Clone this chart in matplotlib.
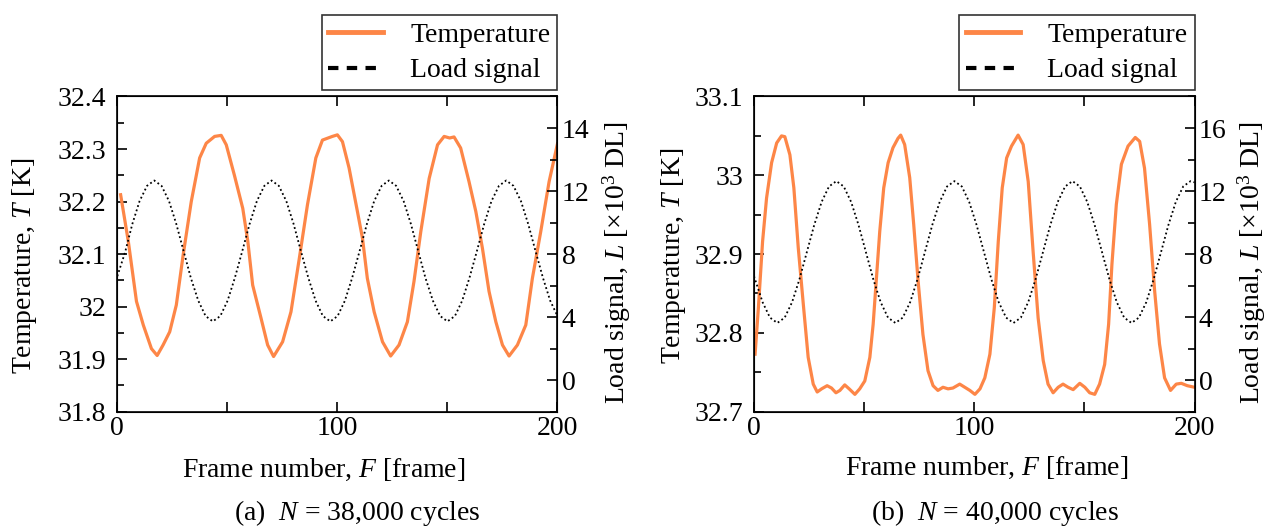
import matplotlib
matplotlib.use("Agg")
import matplotlib.pyplot as plt
from matplotlib.lines import Line2D

plt.rcParams['font.family'] = ['Liberation Serif', 'DejaVu Serif']
plt.rcParams['mathtext.fontset'] = 'custom'
plt.rcParams['mathtext.rm'] = 'Liberation Serif'
plt.rcParams['mathtext.it'] = 'Liberation Serif:italic'

ORANGE = '#fd8647'

# ---- panel (a): N = 38,000 cycles ----
a_temp_f = [1.5, 5, 8.7, 11.8, 15.5, 18.1, 20.8, 23.8, 26.8, 29.9, 33.6, 37.4, 40.4, 44.2,
            47.2, 49.5, 53.2, 57, 59.3, 61.5, 65.3, 68.3, 71, 75.1, 78.9, 82.7, 86.4, 90.2,
            93.2, 97.7, 100, 102.3, 105.3, 109.1, 111.4, 113.6, 116.7, 120.5, 124.2, 128,
            131.8, 134.8, 137.9, 141.7, 145.5, 148.5, 151, 153, 156, 159.8, 162.9, 165.9,
            168.9, 172, 175, 178, 181.8, 185.6, 188.6, 192.4, 196.2, 200]
a_temp = [32.213, 32.124, 32.01, 31.965, 31.92, 31.907, 31.927, 31.952, 32.003, 32.098,
          32.2, 32.283, 32.311, 32.324, 32.326, 32.308, 32.25, 32.187, 32.124, 32.041,
          31.978, 31.927, 31.905, 31.933, 31.99, 32.092, 32.194, 32.283, 32.317, 32.324,
          32.327, 32.314, 32.264, 32.181, 32.13, 32.054, 31.99, 31.933, 31.906, 31.927,
          31.971, 32.048, 32.143, 32.244, 32.308, 32.324, 32.321, 32.323, 32.302, 32.238,
          32.181, 32.111, 32.029, 31.971, 31.927, 31.906, 31.927, 31.965, 32.054, 32.143,
          32.238, 32.31]

a_load_f = [0, 3.5, 6.8, 10.1, 13.5, 16.8, 20.1, 23.5, 26.8, 30.1, 33.4, 36.8, 40.1, 43.4,
            46.8, 50.1, 53.4, 56.8, 60.1, 63.4, 66.8, 70.1, 73.4, 76.8, 80.1, 83.4, 86.8,
            90.1, 93.4, 96.8, 100.1, 103.4, 106.7, 110.1, 113.4, 116.7, 120.1, 123.4, 126.7,
            130.1, 133.4, 136.7, 140.0, 143.4, 146.7, 150.0, 153.4, 156.7, 160.0, 163.4,
            166.7, 170.0, 173.4, 176.7, 180.0, 183.4, 186.7, 190.0, 193.4, 196.7, 200]
a_load = [6.6, 8.1, 9.9, 11.36, 12.33, 12.67, 12.33, 11.36, 9.91, 8.2, 6.49, 5.04, 4.07,
          3.73, 4.07, 5.04, 6.49, 8.2, 9.91, 11.36, 12.33, 12.67, 12.33, 11.36, 9.91, 8.2,
          6.49, 5.04, 4.07, 3.73, 4.07, 5.04, 6.49, 8.2, 9.91, 11.36, 12.33, 12.67, 12.33,
          11.36, 9.91, 8.2, 6.49, 5.04, 4.07, 3.73, 4.07, 5.04, 6.49, 8.2, 9.91, 11.36,
          12.33, 12.67, 12.33, 11.36, 9.91, 8.2, 6.49, 5.04, 4.07]

# ---- panel (b): N = 40,000 cycles ----
b_temp_f = [0.5, 2, 3.9, 5.7, 8, 10.3, 12.5, 14, 16.3, 18.1, 20.1, 22.4, 24.6, 26.9, 28.7,
            30.7, 33.2, 35.2, 37.2, 39, 41.2, 43.2, 45.8, 48, 50.3, 52.6, 54.1, 55.6, 57.1,
            58.9, 60.9, 63.1, 65.4, 66.6, 68.4, 70.7, 72.5, 74.5, 76.7, 79, 81.3, 83.5,
            85.8, 88.1, 90.3, 93.4, 95.7, 98, 100.3, 102.6, 104.8, 107.1, 109.1, 110.9,
            112.7, 114.7, 116.9, 119.9, 122.2, 124.5, 126.7, 129, 131.3, 133.5, 135.8,
            138.1, 140.3, 142.6, 144.9, 147.9, 150.2, 152.4, 154.7, 156.9, 159.2, 161,
            162.5, 164.5, 166.8, 169.8, 173.1, 175.1, 177.3, 179.6, 181.9, 184.1, 186.4,
            189.1, 191.7, 194, 196.7, 200]
b_temp = [32.773, 32.832, 32.916, 32.971, 33.016, 33.041, 33.05, 33.049, 33.026, 32.984,
          32.908, 32.836, 32.769, 32.735, 32.725, 32.729, 32.733, 32.73, 32.724, 32.727,
          32.734, 32.729, 32.722, 32.729, 32.739, 32.769, 32.811, 32.87, 32.929, 32.984,
          33.016, 33.035, 33.047, 33.051, 33.039, 32.997, 32.938, 32.866, 32.798, 32.752,
          32.733, 32.727, 32.731, 32.729, 32.73, 32.735, 32.731, 32.727, 32.722, 32.729,
          32.743, 32.773, 32.832, 32.916, 32.984, 33.022, 33.037, 33.051, 33.039, 32.992,
          32.904, 32.819, 32.765, 32.735, 32.724, 32.731, 32.735, 32.731, 32.728, 32.736,
          32.731, 32.724, 32.722, 32.735, 32.76, 32.811, 32.887, 32.963, 33.014, 33.037,
          33.048, 33.043, 33.009, 32.938, 32.853, 32.786, 32.743, 32.727, 32.735, 32.736,
          32.733, 32.731]

b_load_f = [0, 3.9, 7.25, 10.6, 13.95, 17.3, 20.65, 24.0, 27.35, 30.7, 34.05, 37.4, 40.75,
            44.1, 47.45, 50.8, 54.15, 57.5, 60.85, 64.2, 67.55, 70.9, 74.25, 77.6, 80.95,
            84.3, 87.65, 91.0, 94.35, 97.7, 101.05, 104.4, 107.75, 111.1, 114.45, 117.8,
            121.15, 124.5, 127.85, 131.2, 134.55, 137.9, 141.25, 144.6, 147.95, 151.3,
            154.65, 158.0, 161.35, 164.7, 168.05, 171.4, 174.75, 178.1, 181.45, 184.8,
            188.15, 191.5, 194.85, 198.2, 200]
b_load = [6.6, 4.95, 3.97, 3.63, 3.97, 4.95, 6.41, 8.13, 9.85, 11.31, 12.29, 12.63, 12.29,
          11.31, 9.85, 8.13, 6.41, 4.95, 3.97, 3.63, 3.97, 4.95, 6.41, 8.13, 9.85, 11.31,
          12.29, 12.63, 12.29, 11.31, 9.85, 8.13, 6.41, 4.95, 3.97, 3.63, 3.97, 4.95, 6.41,
          8.13, 9.85, 11.31, 12.29, 12.63, 12.29, 11.31, 9.85, 8.13, 6.41, 4.95, 3.97, 3.63,
          3.97, 4.95, 6.41, 8.13, 9.85, 11.31, 12.29, 12.63, 12.55]

a_yticks = [31.8, 31.9, 32.0, 32.1, 32.2, 32.3, 32.4]
a_ylabels = ['31.8', '31.9', '32', '32.1', '32.2', '32.3', '32.4']
b_yticks = [32.7, 32.8, 32.9, 33.0, 33.1]
b_ylabels = ['32.7', '32.8', '32.9', '33', '33.1']
load_ticks = [0, 4, 8, 12, 16]
a_load_labels = ['0', '4', '8', '12', '14']
b_load_labels = ['0', '4', '8', '12', '16']
x_ticks = [0, 50, 100, 150, 200]
x_labels = ['0', '', '100', '', '200']

FS = 20

fig = plt.figure(figsize=(12.67, 5.27), dpi=100)


def panel(rect, tf, tv, lf, lv, yticks, ylabels, ylim, lload, caption, pos):
    ax = fig.add_axes(rect)
    ax.plot(tf, tv, color=ORANGE, lw=2.3, solid_joinstyle='round')
    ax.set_xlim(0, 200)
    ax.set_ylim(*ylim)
    ax.set_xticks(x_ticks)
    ax.set_xticklabels(x_labels)
    ax.set_yticks(yticks)
    ax.set_yticklabels(ylabels)
    ax.set_yticks([v + 0.05 for v in yticks[:-1]], minor=True)
    ax.tick_params(axis='both', which='both', direction='in', labelsize=FS, top=True, width=1.2)
    ax.tick_params(axis='both', which='major', length=7)
    ax.tick_params(axis='x', which='major', pad=3)
    ax.tick_params(axis='y', which='major', pad=8)
    ax.tick_params(axis='y', which='minor', length=5)
    ax.set_xlabel('Frame number, $F$ [frame]', fontsize=FS)
    ax.set_ylabel('Temperature, $T$ [K]', fontsize=FS)
    ax.xaxis.label.set_va('center')
    ax.yaxis.label.set_va('center')
    ax.xaxis.set_label_coords(pos['xl'], pos['xly'])
    ax.yaxis.set_label_coords(pos['yl'], pos['yly'])
    for s in ax.spines.values():
        s.set_linewidth(1.2)

    ax2 = ax.twinx()
    ax2.plot(lf, lv, color='black', lw=1.3, linestyle=(0, (1, 1.5)))
    ax2.set_ylim(-2, 18)
    ax2.set_yticks(load_ticks)
    ax2.set_yticklabels(lload)
    ax2.set_yticks([-2, 2, 6, 10, 14, 18], minor=True)
    ax2.tick_params(axis='y', which='both', direction='in', labelsize=FS, width=1.2, pad=3)
    ax2.tick_params(axis='y', which='major', length=7)
    ax2.tick_params(axis='y', which='minor', length=5)
    ax2.set_ylabel('Load signal, $L$ [×10$^{3}$ DL]', fontsize=FS)
    ax2.yaxis.label.set_va('center')
    ax2.yaxis.set_label_coords(pos['yr'], pos['yry'])

    handles = [Line2D([], [], color=ORANGE, lw=3.5),
               Line2D([], [], color='black', lw=3, linestyle=(0, (2.5, 2)))]
    leg = ax.legend(handles, ['Temperature', 'Load signal'], loc='lower right',
                    bbox_to_anchor=(1.0, 1.02), fontsize=FS, frameon=True, fancybox=False,
                    edgecolor='black', handlelength=1.95, borderpad=0.25, labelspacing=0.36,
                    handletextpad=1.0, borderaxespad=0)
    leg.get_frame().set_linewidth(1.2)
    ax.text(pos['cx'], -0.322, caption, transform=ax.transAxes, ha='center', va='center',
            fontsize=FS)
    return ax


panel([0.0926, 0.2188, 0.3474, 0.5981], a_temp_f, a_temp, a_load_f, a_load,
      a_yticks, a_ylabels, (31.8, 32.4), a_load_labels, '(a)  $N$ = 38,000 cycles',
      dict(xl=0.47, xly=-0.185, yl=-0.21, yly=0.462, yr=1.135, yry=0.472, cx=0.545))
panel([0.5951, 0.2188, 0.3477, 0.5981], b_temp_f, b_temp, b_load_f, b_load,
      b_yticks, b_ylabels, (32.7, 33.1), b_load_labels, '(b)  $N$ = 40,000 cycles',
      dict(xl=0.529, xly=-0.178, yl=-0.182, yly=0.494, yr=1.13, yry=0.472, cx=0.546))

fig.savefig('out.png', dpi=100)
